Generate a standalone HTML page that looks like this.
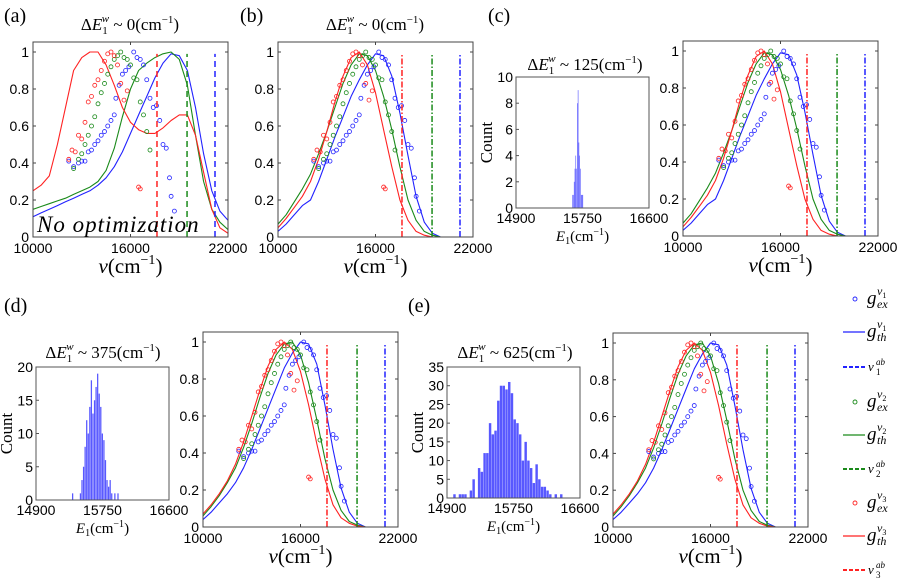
<!DOCTYPE html>
<html><head><meta charset="utf-8"><style>
body{margin:0;background:#fff}
svg{display:block}
.t{font-family:"Liberation Sans",sans-serif;font-size:14px;fill:#000}
.s{font-family:"Liberation Serif",serif;fill:#000}
</style></head><body>
<svg id="fig" width="900" height="586" viewBox="0 0 900 586">
<g id="root"></g>
<g id="legend"></g>
</svg>
<script>
// shared grid for theory curves (cm^-1)
const gridX = [10000,10500,11000,11500,12000,12500,13000,13500,14000,14500,15000,15500,16000,16500,17000,17500,18000,18500,19000,19500,20000,20500,21000,21500,22000];
// experimental data
const expBlueX = [12200,12500,12800,13000,13200,13400,13600,13800,14000,14200,14400,14600,14800,15000,15100,15300,15500,15700,15900,16200,16400,16600,16800,17000,17200,17400,17600,17800,18000,18200,18400,18500,18700];
const expBlueY = [0.41,0.38,0.40,0.41,0.41,0.46,0.47,0.50,0.52,0.55,0.57,0.60,0.63,0.66,0.75,0.82,0.88,0.90,0.92,1.00,0.97,0.96,0.93,0.85,0.75,0.70,0.71,0.63,0.50,0.48,0.32,0.22,0.14];
const expGreenX = [12500,12800,13000,13200,13400,13600,13800,14000,14200,14400,14600,14800,15000,15200,15400,15600,15800,16000,16200,16400,16600,16800,17000,17200];
const expGreenY = [0.37,0.42,0.45,0.50,0.55,0.60,0.65,0.72,0.78,0.83,0.88,0.92,0.96,0.98,1.00,0.97,0.96,0.93,0.86,0.85,0.73,0.66,0.57,0.47];
const expRedX = [12200,12400,12600,12800,13000,13200,13400,13600,13800,14000,14200,14400,14600,14800,15000,15200,15400,15600,15800,16500,16600];
const expRedY = [0.42,0.47,0.46,0.55,0.53,0.62,0.73,0.76,0.82,0.85,0.90,0.95,0.99,1.00,0.98,0.93,0.83,0.74,0.79,0.27,0.26];
// absorption lines
const vlineX = [21200,19480,17630];
// theory curves panel a
const thA_blue = [0.11,0.13,0.15,0.17,0.19,0.21,0.23,0.25,0.28,0.32,0.38,0.46,0.56,0.66,0.76,0.86,0.94,0.99,0.98,0.90,0.70,0.45,0.25,0.14,0.09];
const thA_green = [0.15,0.165,0.18,0.195,0.21,0.23,0.25,0.27,0.30,0.36,0.48,0.65,0.80,0.90,0.94,0.97,0.99,1.00,0.96,0.82,0.55,0.30,0.15,0.08,0.04];
const thA_red = [0.25,0.28,0.33,0.50,0.70,0.90,0.97,1.00,1.00,0.93,0.82,0.70,0.62,0.58,0.56,0.56,0.59,0.63,0.66,0.66,0.55,0.35,0.15,0.05,0.02];
// theory curves panels b,c
const thB_blue = [0.03,0.07,0.12,0.17,0.20,0.30,0.42,0.54,0.65,0.76,0.85,0.93,0.99,0.98,0.87,0.67,0.44,0.22,0.08,0.02,0,0,0,0,0];
const thB_green = [0.07,0.12,0.19,0.26,0.34,0.45,0.57,0.70,0.83,0.93,0.99,0.98,0.90,0.76,0.58,0.38,0.20,0.09,0.03,0.01,0,0,0,0,0];
const thB_red = [0.05,0.10,0.16,0.22,0.30,0.42,0.57,0.73,0.87,0.97,1.00,0.93,0.78,0.58,0.38,0.20,0.09,0.03,0.01,0,0,0,0,0,0];
// theory curves panels d,e
const thD_blue = [0.04,0.08,0.13,0.18,0.24,0.32,0.42,0.53,0.64,0.75,0.86,0.94,1.00,0.99,0.88,0.66,0.42,0.21,0.08,0.02,0,0,0,0,0];
const thD_green = [0.06,0.11,0.17,0.24,0.32,0.43,0.56,0.70,0.83,0.93,0.99,1.00,0.93,0.78,0.58,0.37,0.20,0.09,0.03,0.01,0,0,0,0,0];
const thD_red = [0.07,0.12,0.18,0.25,0.34,0.46,0.60,0.74,0.87,0.96,1.00,0.96,0.84,0.66,0.45,0.26,0.12,0.05,0.02,0.005,0,0,0,0,0];
// histograms
const histC_start = 15620, histC_step = 10;
const histC_counts = [1,1,2,3,4,3,8,9,5,4,3,1,1,1];
const histD_start = 15360, histD_step = 20;
const histD_counts = [1,0,0,0,0,1,3,5,8,12,10,14,18,13,15,17,19,16,14,10,9,6,3,2,3,1,0,1,0,1];
const histE_start = 14980, histE_step = 35;
const histE_counts = [1,0,1,1,1,0,2,5,0,8,7,12,12,20,17,18,26,30,30,29,31,28,21,20,17,10,15,10,8,4,9,5,3,3,2,1,0,1,0,1];
const mainYTicks = [0,0.2,0.4,0.6,0.8,1];
const mainYTickLabels = ["0","0.2","0.4","0.6","0.8","1"];
const mainXTicks = [10000,16000,22000];
const histXTicks = [14900,15750,16600];

const NS="http://www.w3.org/2000/svg";
const root=document.getElementById('root');
function mk(tag,attrs,parent){const e=document.createElementNS(NS,tag);for(const k in attrs)e.setAttribute(k,attrs[k]);(parent||root).appendChild(e);return e;}
const COL={blue:'#2222ff',green:'#1a8a1a',red:'#ff2222'};

function mathTitle(parent,cx,y,val,name){
  const t=mk('text',{x:cx,y:y,'text-anchor':'middle','class':'s','font-size':17},parent);
  
  
  t.innerHTML='Δ<tspan font-style="italic">E</tspan><tspan font-size="11" dy="4">1</tspan><tspan font-size="11" dx="-6" dy="-12" font-style="italic">w</tspan><tspan dy="8"> ~ '+val+'(cm</tspan><tspan font-size="11" dy="-7">−1</tspan><tspan dy="7">)</tspan>';
}
function nuLabel(parent,cx,y){
  const t=mk('text',{x:cx,y:y,'text-anchor':'middle','class':'s','font-size':21},parent);
  
  
  t.innerHTML='<tspan font-style="italic">ν</tspan>(cm<tspan font-size="14" dy="-9">−1</tspan><tspan dy="9">)</tspan>';
}

function mainPanel(id,L,R,T,B,thBlue,thGreen,thRed,dash){
  const g=mk('g',{});
  
  
  const y0=B, y1=T+10;
  const sx=v=>L+(v-10000)/12000*(R-L);
  const sy=v=>y0-v*(y0-y1);
  const clip=mk('clipPath',{id:'clip'+id},g);
  mk('rect',{x:L,y:T,width:R-L,height:B-T},clip);
  const pg=mk('g',{'clip-path':'url(#clip'+id+')'},g);
  [[thBlue,'blue'],[thGreen,'green'],[thRed,'red']].forEach(([arr,c])=>{
    const d=arr.map((v,i)=>(i?'L':'M')+sx(gridX[i]).toFixed(1)+','+sy(v).toFixed(1)).join('');
    const p=mk('path',{d:d,fill:'none',stroke:COL[c],'stroke-width':1.1,'stroke-linejoin':'round'},pg);
    
    
  });
  [[expBlueX,expBlueY,'blue'],[expGreenX,expGreenY,'green'],[expRedX,expRedY,'red']].forEach(([xs,ys,c])=>{
    xs.forEach((x,i)=>{
      const ci=mk('circle',{cx:sx(x),cy:sy(ys[i]),r:2,fill:'none',stroke:COL[c],'stroke-width':0.8},pg);
      
      
    });
  });
  ['blue','green','red'].forEach((c,i)=>{
    const l=mk('line',{x1:sx(vlineX[i]),x2:sx(vlineX[i]),y1:sy(0),y2:sy(0.99),stroke:COL[c],'stroke-width':1.5,'stroke-dasharray':dash},pg);
    
    
  });
  const fr=mk('rect',{x:L,y:T,width:R-L,height:B-T,fill:'none',stroke:'#444','stroke-width':1},g);
  
  
  mainYTicks.forEach((v,i)=>{
    mk('line',{x1:L,x2:L+3,y1:sy(v),y2:sy(v),stroke:'#444'},g);
    mk('line',{x1:R,x2:R-3,y1:sy(v),y2:sy(v),stroke:'#444'},g);
    const t=mk('text',{x:L-4,y:sy(v)+5,'text-anchor':'end','class':'t'},g);
    t.textContent=mainYTickLabels[i];
    
    
  });
  mainXTicks.forEach(v=>{
    mk('line',{x1:sx(v),x2:sx(v),y1:B,y2:B-3,stroke:'#444'},g);
    mk('line',{x1:sx(v),x2:sx(v),y1:T,y2:T+3,stroke:'#444'},g);
    const t=mk('text',{x:sx(v),y:B+16,'text-anchor':'middle','class':'t'},g);
    t.textContent=String(v);
    
    
  });
  nuLabel(g,(L+R)/2,B+36);
  return g;
}

function histPanel(id,L,R,T,B,ymax,yticks,start,step,counts){
  const g=mk('g',{});
  
  
  const sx=v=>L+(v-14900)/1700*(R-L);
  const sy=v=>B-v/ymax*(B-T);
  counts.forEach((c,i)=>{
    if(!c)return;
    const x0=sx(start+i*step), x1=sx(start+(i+1)*step);
    const r=mk('rect',{x:x0,y:sy(c),width:Math.max(0.6,x1-x0-0.3),height:B-sy(c),fill:'#3b3bff','fill-opacity':0.85},g);
    
    
  });
  const fr=mk('rect',{x:L,y:T,width:R-L,height:B-T,fill:'none',stroke:'#555'},g);
  
  
  yticks.forEach(v=>{
    mk('line',{x1:L,x2:L+3,y1:sy(v),y2:sy(v),stroke:'#555'},g);
    const t=mk('text',{x:L-3,y:sy(v)+5,'text-anchor':'end','class':'t','font-size':13},g);
    t.textContent=String(v);
    
    
  });
  histXTicks.forEach(v=>{
    const t=mk('text',{x:sx(v),y:B+15,'text-anchor':'middle','class':'t','font-size':13},g);
    t.textContent=String(v);
    
    
  });
  const yl=mk('text',{x:0,y:0,'text-anchor':'middle','class':'s','font-size':17,transform:'translate('+(L-24)+','+((T+B)/2)+') rotate(-90)'},g);
  yl.textContent='Count';
  
  
  const xl=mk('text',{x:(L+R)/2,y:B+33,'text-anchor':'middle','class':'s','font-size':15},g);
  
  
  xl.innerHTML='<tspan font-style="italic">E</tspan><tspan font-size="10" dy="3">1</tspan><tspan dy="-3">(cm</tspan><tspan font-size="10" dy="-6">−1</tspan><tspan dy="6">)</tspan>';
}

function plabel(txt,x,y){
  const t=mk('text',{x:x,y:y,'class':'s','font-size':20});
  t.textContent=txt;
  
  
}

plabel('(a)',4,22);
const ga=mainPanel('a',33,228,42,237,thA_blue,thA_green,thA_red,'6,4');
mathTitle(ga,130,30,'0','panel-a-title');
const no=mk('text',{x:37,y:232,'class':'s','font-size':23,'font-style':'italic','letter-spacing':'1'},ga);
no.textContent='No optimization';


plabel('(b)',240,22);
const gb=mainPanel('b',278,473,42,237,thB_blue,thB_green,thB_red,'6,2,1.5,2');
mathTitle(gb,375,30,'0','panel-b-title');
plabel('(c)',488,22);
mainPanel('c',683,878,41,236,thB_blue,thB_green,thB_red,'6,2,1.5,2');
histPanel('c',516,649,77,208,10,[0,2,4,6,8,10],histC_start,histC_step,histC_counts);
mathTitle(root,585,70,'125','panel-c-title');
plabel('(d)',4,312);
mainPanel('d',203,398,332,527,thD_blue,thD_green,thD_red,'6,2,1.5,2');
histPanel('d',36,169,367,500,20,[0,5,10,15,20],histD_start,histD_step,histD_counts);
mathTitle(root,103,358,'375','panel-d-title');
plabel('(e)',408,312);
mainPanel('e',613,808,333,527,thD_blue,thD_green,thD_red,'6,2,1.5,2');
histPanel('e',447,580,367,498,35,[0,5,10,15,20,25,30,35],histE_start,histE_step,histE_counts);
mathTitle(root,515,358,'625','panel-e-title');

// legend
const leg=document.getElementById('legend');
const legItems=[
 ['circle','blue','ex','1',302],
 ['line','blue','th','1',335],
 ['dash','blue','ab','1',370],
 ['circle','green','ex','2',405],
 ['line','green','th','2',438],
 ['dash','green','ab','2',472],
 ['circle','red','ex','3',506],
 ['line','red','th','3',539],
 ['dash','red','ab','3',573]
];
legItems.forEach(([kind,c,sub,idx,y])=>{
  const g=mk('g',{},leg);
  
  
  if(kind==='circle') mk('circle',{cx:855,cy:y-3,r:2,fill:'none',stroke:COL[c],'stroke-width':0.9},g);
  else mk('line',{x1:843,x2:865,y1:y-3,y2:y-3,stroke:COL[c],'stroke-width':kind==='dash'?2:1.3,'stroke-dasharray':kind==='dash'?'4,2':'none'},g);
  if(kind==='dash'){
    const t=mk('text',{x:868,y:y+1,'class':'s','font-style':'italic','font-size':13},g);
    t.textContent='ν';
    const a=mk('text',{x:876,y:y-5,'class':'s','font-style':'italic','font-size':9},g);
    a.textContent='ab';
    const b=mk('text',{x:876,y:y+5,'class':'s','font-size':9},g);
    b.textContent=idx;
  } else {
    const t=mk('text',{x:867,y:y+2,'class':'s','font-style':'italic','font-size':19},g);
    t.textContent='g';
    const a=mk('text',{x:877,y:y-7,'class':'s','font-style':'italic','font-size':12},g);
    a.innerHTML='ν<tspan font-size="8" font-style="normal" dy="3">'+idx+'</tspan>';
    const b=mk('text',{x:877,y:y+6,'class':'s','font-style':'italic','font-size':12},g);
    b.textContent=sub;
  }
});
</script>
</body></html>
